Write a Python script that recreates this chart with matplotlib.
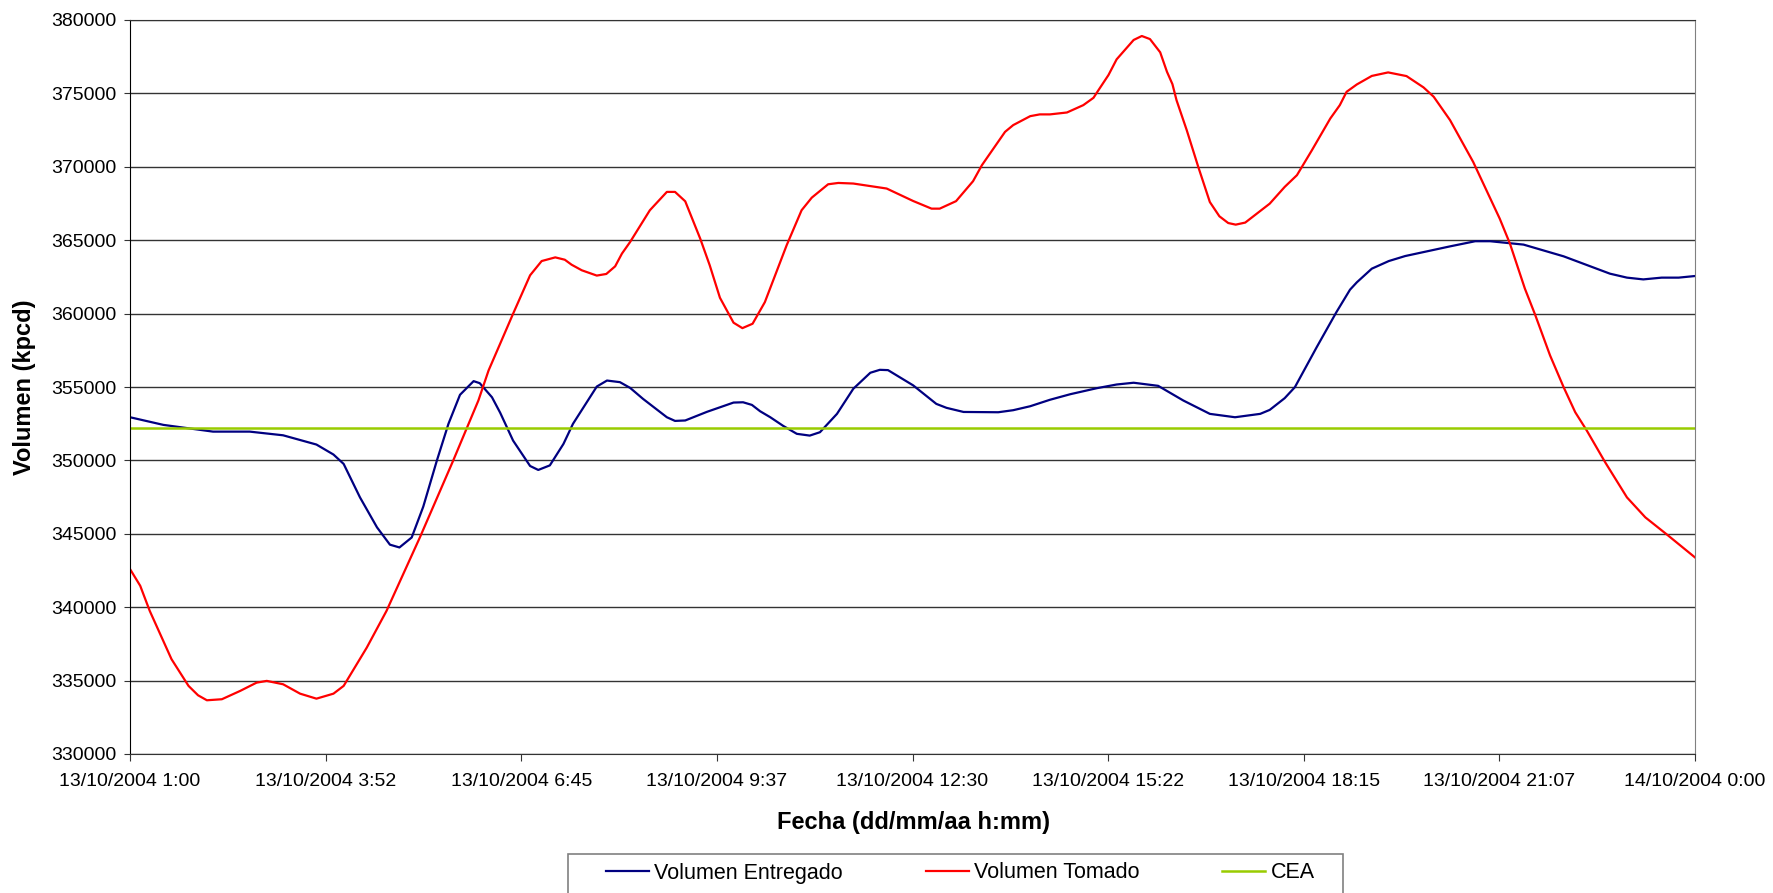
import pandas as pd
import matplotlib
matplotlib.use("Agg")
import matplotlib.pyplot as plt
from matplotlib.patches import Rectangle
from matplotlib.ticker import FuncFormatter
import matplotlib.dates as mdates

plt.rcParams['font.family'] = ['Liberation Sans', 'DejaVu Sans']

start = pd.Timestamp('2004-10-13 01:00')
end = pd.Timestamp('2004-10-14 00:00')

# hours after 13/10/2004 1:00 and volumes (kpcd)
entregado_h = [0.0, 0.49, 1.22, 1.76, 2.25, 2.74, 2.99, 3.14, 3.38, 3.63, 3.82, 3.96,
               4.14, 4.31, 4.51, 4.68, 4.85, 5.05, 5.14, 5.32, 5.44, 5.63, 5.88, 6.0,
               6.17, 6.37, 6.51, 6.86, 7.01, 7.2, 7.35, 7.54, 7.89, 8.01, 8.16, 8.48,
               8.87, 9.01, 9.14, 9.26, 9.41, 9.6, 9.8, 9.99, 10.14, 10.39, 10.63, 10.88,
               11.02, 11.14, 11.51, 11.85, 12.0, 12.25, 12.76, 12.98, 13.23, 13.52, 13.82,
               14.21, 14.5, 14.75, 15.11, 15.48, 15.87, 16.24, 16.61, 16.75, 16.97, 17.12,
               17.44, 17.73, 17.93, 18.03, 18.25, 18.5, 18.74, 19.06, 19.4, 19.77, 19.99,
               20.48, 21.07, 21.75, 22.0, 22.24, 22.51, 22.76, 23.0]
entregado = [352940, 352420, 351960, 351960, 351710, 351080, 350400, 349760, 347480,
             345440, 344260, 344070, 344750, 346850, 349990, 352490, 354470, 355400,
             355260, 354300, 353250, 351350, 349620, 349350, 349660, 351120, 352490,
             355030, 355440, 355330, 354940, 354190, 352940, 352690, 352720, 353310,
             353940, 353960, 353780, 353350, 352940, 352350, 351810, 351690, 351920,
             353170, 354880, 355970, 356170, 356150, 355110, 353850, 353580, 353300,
             353280, 353420, 353690, 354130, 354510, 354920, 355170, 355290, 355080,
             354080, 353170, 352940, 353170, 353440, 354240, 354990, 357710, 360100,
             361630, 362130, 363060, 363580, 363920, 364240, 364580, 364930, 364930,
             364700, 363900, 362720, 362450, 362330, 362450, 362450, 362560]

tomado_h = [0.0, 0.15, 0.29, 0.61, 0.86, 1.0, 1.13, 1.35, 1.62, 1.86, 2.01, 2.25, 2.5,
            2.74, 2.99, 3.14, 3.48, 3.77, 4.26, 4.75, 5.12, 5.27, 5.44, 5.63, 5.88, 6.05,
            6.25, 6.39, 6.49, 6.64, 6.86, 7.0, 7.13, 7.23, 7.35, 7.64, 7.89, 8.01, 8.16,
            8.38, 8.52, 8.67, 8.87, 9.0, 9.15, 9.33, 9.65, 9.87, 10.02, 10.26, 10.41,
            10.63, 11.12, 11.51, 11.78, 11.9, 12.14, 12.39, 12.52, 12.86, 12.98, 13.23,
            13.37, 13.52, 13.77, 14.01, 14.16, 14.23, 14.38, 14.5, 14.75, 14.87, 14.99,
            15.14, 15.24, 15.32, 15.38, 15.53, 15.7, 15.87, 16.01, 16.14, 16.25, 16.39,
            16.75, 16.97, 17.15, 17.37, 17.64, 17.78, 17.88, 18.03, 18.25, 18.49, 18.76,
            19.01, 19.16, 19.4, 19.74, 20.13, 20.28, 20.5, 20.65, 20.87, 21.07, 21.24,
            21.41, 21.68, 22.0, 22.27, 22.59, 23.0]
tomado = [342600, 341460, 339750, 336460, 334640, 334000, 333660, 333730, 334300,
          334860, 334980, 334750, 334110, 333770, 334110, 334640, 337250, 339750,
          344750, 349990, 354080, 356130, 357950, 359990, 362610, 363580, 363830,
          363670, 363330, 362950, 362590, 362700, 363220, 364090, 364880, 367040,
          368290, 368290, 367650, 365110, 363290, 361080, 359380, 359010, 359310,
          360780, 364650, 367040, 367900, 368810, 368900, 368860, 368520, 367670,
          367150, 367150, 367660, 369020, 370110, 372380, 372840, 373450, 373570,
          373570, 373700, 374200, 374700, 375200, 376250, 377320, 378640, 378910,
          378700, 377800, 376470, 375630, 374540, 372500, 369990, 367600, 366630,
          366170, 366060, 366200, 367490, 368630, 369430, 371130, 373290, 374200,
          375110, 375610, 376190, 376430, 376180, 375410, 374770, 373180, 370330,
          366470, 364770, 361700, 359930, 357150, 354980, 353280, 352030, 349870,
          347480, 346120, 344940, 343390]

cea = 352200

entregado_t = start + pd.to_timedelta(entregado_h, unit='h')
tomado_t = start + pd.to_timedelta(tomado_h, unit='h')

fig = plt.figure(figsize=(17.73, 8.93), dpi=100)
ax = fig.add_axes([130 / 1773, 1 - 754 / 893, 1565 / 1773, 734 / 893])

ax.plot(entregado_t, entregado, color='#000080', lw=1.6, label='Volumen Entregado')
ax.plot(tomado_t, tomado, color='#FF0000', lw=1.6, label='Volumen Tomado')
ax.plot([start, end], [cea, cea], color='#99CC00', lw=1.8, label='CEA')

ax.set_xlim(start, end)
ax.set_ylim(330000, 380000)
ax.set_yticks(range(330000, 380001, 5000))
ax.yaxis.set_major_formatter(FuncFormatter(lambda v, p: f"{int(v)}"))
ax.grid(axis='y', color='#333333', lw=1)
ax.set_axisbelow(True)

ticks = pd.date_range(start, end, periods=9)
ax.set_xticks(ticks)


def fmt_date(x, pos):
    d = mdates.num2date(x)
    return d.strftime('%d/%m/%Y') + f" {d.hour}:{d.minute:02d}"


ax.xaxis.set_major_formatter(FuncFormatter(fmt_date))
ax.tick_params(axis='x', labelsize=14, length=5, pad=9, color='#333333')
ax.tick_params(axis='y', labelsize=14, length=4, pad=6, color='#333333')

ax.spines['left'].set_color('black')
ax.spines['bottom'].set_color('#333333')
ax.spines['top'].set_color('#333333')
ax.spines['right'].set_color('#808080')

fig.text(914 / 1773, 1 - 823 / 893, 'Fecha (dd/mm/aa h:mm)', ha='center', va='center',
         fontsize=17, fontweight='bold')
fig.text(25 / 1773, 1 - 387 / 893, 'Volumen (kpcd)', ha='center', va='center',
         rotation=90, fontsize=17, fontweight='bold')

# legend box runs off the bottom edge, like the original
fig.patches.append(Rectangle((568 / 1773, -0.02), 775 / 1773, 0.02 + 39 / 893,
                             transform=fig.transFigure, fill=False,
                             edgecolor='#808080', lw=1.2))
fig.legend(loc='center', ncol=3, mode='expand', frameon=False, fontsize=15.5,
           bbox_to_anchor=(606 / 1773, 1 - 873 / 893 - 0.01, 709 / 1773, 0.02),
           borderpad=0, borderaxespad=0, handlelength=2.0, handletextpad=0.25)

fig.savefig('out.png', dpi=100)
